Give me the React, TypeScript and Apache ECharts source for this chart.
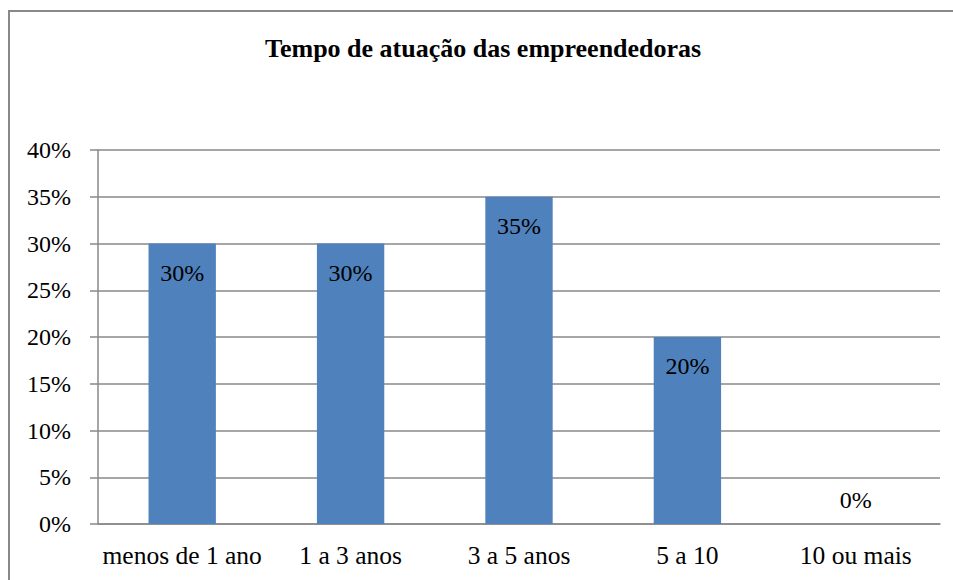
import React, { useEffect, useRef } from "react";
import * as echarts from "echarts";

const categories = ["menos de 1 ano", "1 a 3 anos", "3 a 5 anos", "5 a 10", "10 ou mais"];
const values = [0.3, 0.3, 0.35, 0.2, 0];
const titleText = "Tempo de atuação das empreendedoras";

const FONT = "'Liberation Serif', 'Times New Roman', serif";

export default function App() {
  const ref = useRef<HTMLDivElement>(null);
  useEffect(() => {
    if (!ref.current) return;
    const chart = echarts.init(ref.current, undefined, { renderer: "svg" });
    const fmt = (v: number) => `${Math.round(v * 100)}%`;
    chart.setOption({
      animation: false,
      backgroundColor: "#ffffff",
      title: {
        text: titleText,
        left: 265,
        top: 35,
        padding: 0,
        textStyle: { fontFamily: FONT, fontSize: 26, fontWeight: "bold", color: "#000" },
      },
      graphic: [
        {
          type: "rect",
          shape: { x: 9, y: 11, width: 1100, height: 1000 },
          style: { fill: "none", stroke: "#898989", lineWidth: 2 },
          silent: true,
        },
      ],
      grid: { left: 98, right: 13, top: 150, bottom: 56, containLabel: false },
      xAxis: {
        type: "category",
        data: categories,
        axisTick: { show: false },
        axisLine: { show: true, lineStyle: { color: "#898989", width: 1.5 } },
        axisLabel: { margin: 18, fontFamily: FONT, fontSize: 25.5, color: "#000", interval: 0 },
      },
      yAxis: {
        type: "value",
        min: 0,
        max: 0.4,
        interval: 0.05,
        axisLine: { show: true, lineStyle: { color: "#898989", width: 1.5 } },
        axisTick: { show: true, length: 8, lineStyle: { color: "#898989", width: 1.5 } },
        splitLine: { show: true, lineStyle: { color: "#898989", width: 1.5 } },
        axisLabel: { margin: 27, fontFamily: FONT, fontSize: 24, color: "#000", formatter: fmt },
      },
      series: [
        {
          type: "bar",
          data: values.map((v) =>
            v === 0
              ? { value: v, label: { position: "top", distance: 12 } }
              : { value: v }
          ),
          barWidth: "40%",
          itemStyle: { color: "#4F81BD" },
          label: {
            show: true,
            position: "insideTop",
            distance: 17,
            fontFamily: FONT,
            fontSize: 24,
            color: "#000",
            formatter: (p: any) => fmt(p.value),
          },
        },
      ],
    });
    return () => chart.dispose();
  }, []);
  return (
    <div
      ref={ref}
      style={{ position: "fixed", left: 0, top: 0, width: 953, height: 580 }}
    />
  );
}
